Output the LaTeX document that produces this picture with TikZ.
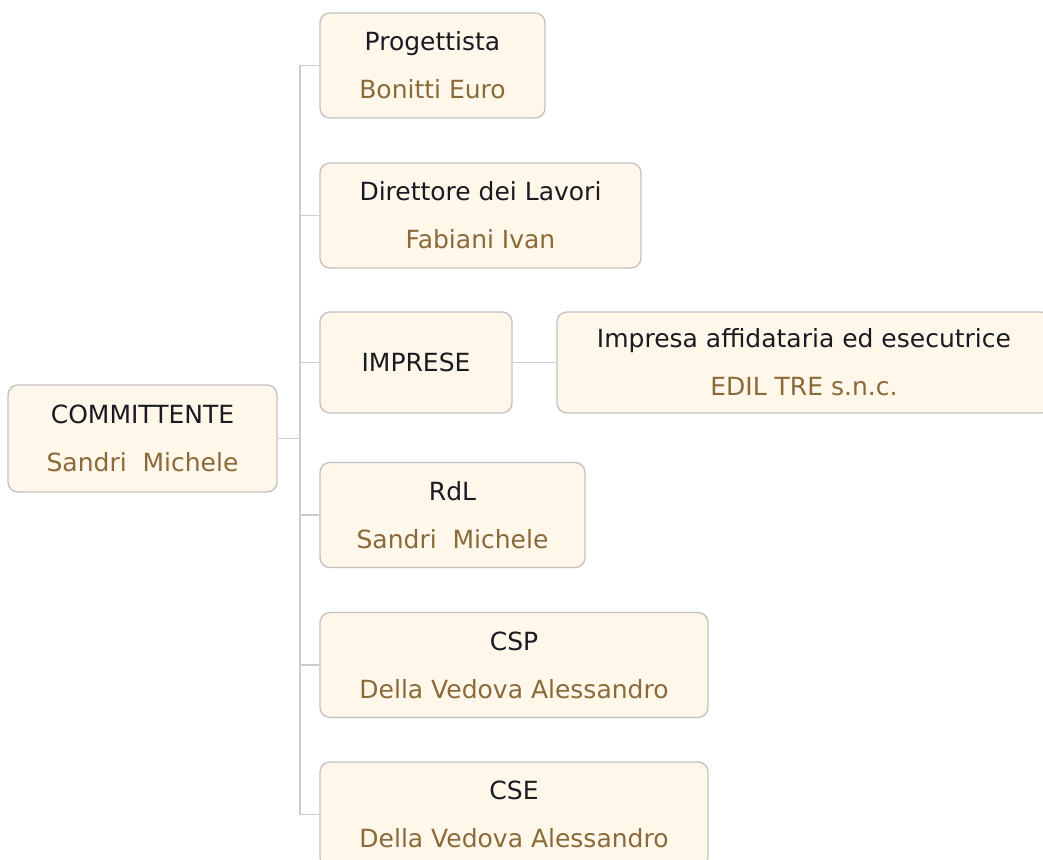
\documentclass[tikz,border=0pt]{standalone}
\usepackage{fontspec}
\setmainfont{DejaVu Sans}
\usepackage{tikz}
\usepackage{xcolor}

\definecolor{boxfill}{HTML}{FEF7EA}
\definecolor{boxline}{HTML}{C2C2C2}
\definecolor{linkline}{HTML}{CCCCCC}
\definecolor{namecol}{HTML}{8B6A3A}
\definecolor{titlecol}{HTML}{1A1A22}

\begin{document}
\begin{tikzpicture}[
            x=0.75pt, y=-0.75pt,
            role/.style={rectangle, draw=boxline, line width=1pt, fill=boxfill, rounded corners=7.5pt, minimum height=78.75pt, align=center, inner sep=0pt, text=titlecol, font=\fontsize{18.75}{36}\selectfont},
            link/.style={draw=linkline, line width=1.2pt}
        ]
            \useasboundingbox (0,0) rectangle (1043,860);
            \clip (0,0) rectangle (1043,860);

            % Root
            \node[role, minimum width=201.75pt, minimum height=80.25pt] (committente) at (142.5,438.5) {COMMITTENTE\\\textcolor{namecol}{Sandri~~Michele}};

            % Children of the root
            \node[role, minimum width=168.75pt] (progettista) at (432.5,65.5) {Progettista\\\textcolor{namecol}{Bonitti Euro}};
            \node[role, minimum width=240.75pt] (direttore) at (480.5,215.5) {Direttore dei Lavori\\\textcolor{namecol}{Fabiani Ivan}};
            \node[role, minimum width=144pt, minimum height=75.75pt] (imprese) at (416,362.5) {IMPRESE};
            \node[role, minimum width=198.75pt] (rdl) at (452.5,515) {RdL\\\textcolor{namecol}{Sandri~~Michele}};
            \node[role, minimum width=291pt] (csp) at (514,665) {CSP\\\textcolor{namecol}{Della Vedova Alessandro}};
            \node[role, minimum width=291pt] (cse) at (514,814.5) {CSE\\\textcolor{namecol}{Della Vedova Alessandro}};

            % Child of IMPRESE
            \node[role, minimum width=370.5pt, minimum height=75.75pt] (impresa) at (804,362.5) {Impresa affidataria ed esecutrice\\\textcolor{namecol}{EDIL TRE s.n.c.}};

            % Connectors
            \coordinate (trunk) at (300,438.5);
            \draw[link] (committente.east) -- (trunk);
            \foreach \child in {progettista, direttore, imprese, rdl, csp, cse}
                \draw[link] (trunk) |- (\child.west);
            \draw[link] (imprese.east) -- (impresa.west);
        \end{tikzpicture}
\end{document}
